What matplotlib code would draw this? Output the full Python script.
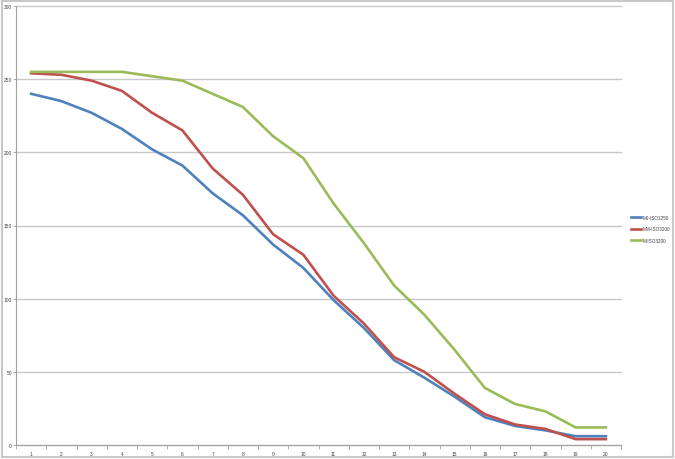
import matplotlib
matplotlib.use("Agg")
import matplotlib.pyplot as plt
from matplotlib.patches import Rectangle
from matplotlib.ticker import FixedLocator, NullFormatter

plt.rcParams["font.family"] = ["Liberation Sans", "DejaVu Sans"]

# values
steps = list(range(1, 21))
m9_iso1250 = [240, 235, 227, 216, 202, 191, 172, 157, 137, 121,
              99, 80, 58, 46, 33, 19, 13, 10, 6, 6]
mm_iso3200 = [254, 253, 249, 242, 227, 215, 189, 171, 144, 130,
              102, 83, 60, 50, 35, 21, 14, 11, 4, 4]
m_iso3200 = [255, 255, 255, 255, 252, 249, 240, 231, 211, 196,
             165, 138, 109, 89, 65, 39, 28, 23, 12, 12]
labels = ["M9-ISO1250", "MM-ISO3200", "M-ISO3200"]
colors = ["#4F81BD", "#C0504D", "#9BBB59"]

W, H = 675, 460
fig = plt.figure(figsize=(W / 100, H / 100), dpi=100)
ax = fig.add_axes([16 / W, 14 / H, (621 - 16) / W, (446 - 7) / H])

for ys, lab, c in zip([m9_iso1250, mm_iso3200, m_iso3200], labels, colors):
    ax.plot(steps, ys, color=c, lw=1.9, label=lab, solid_joinstyle="round")

ax.set_xlim(0.5, 20.5)
ax.set_ylim(0, 300)
ax.set_yticks(range(0, 301, 50))
ax.set_xticks(steps)
ax.xaxis.set_minor_locator(FixedLocator([s + 0.5 for s in range(0, 21)]))
ax.xaxis.set_minor_formatter(NullFormatter())
ax.grid(axis="y", color="#c8c8c8", lw=1.0)
ax.set_axisbelow(True)
for gl in ax.get_ygridlines():
    gl.set_clip_on(False)

for side in ["top", "right"]:
    ax.spines[side].set_visible(False)
for side in ["left", "bottom"]:
    ax.spines[side].set_color("#a0a0a0")
    ax.spines[side].set_linewidth(0.8)

ax.tick_params(axis="both", which="major", labelsize=3.5, colors="#a0a0a0",
               labelcolor="#404040", length=2, width=0.6)
ax.tick_params(axis="x", which="major", length=0, pad=4)
ax.tick_params(axis="x", which="minor", length=3, width=0.6, color="#a0a0a0")
ax.tick_params(axis="y", pad=1)

leg = ax.legend(loc="center left", bbox_to_anchor=(629 / W, (460 - 230) / H),
                bbox_transform=fig.transFigure, frameon=False, fontsize=3.3,
                handlelength=2.3, handletextpad=0.2, labelspacing=1.4,
                borderaxespad=0)
for t in leg.get_texts():
    t.set_color("#404040")

# light grey frame around the whole chart
fig.patches.append(Rectangle((2 / W, 2 / H), 671 / W, 456 / H, fill=False,
                             edgecolor="#c8c8c8", lw=1.5,
                             transform=fig.transFigure))

fig.savefig("out.png", dpi=100)
